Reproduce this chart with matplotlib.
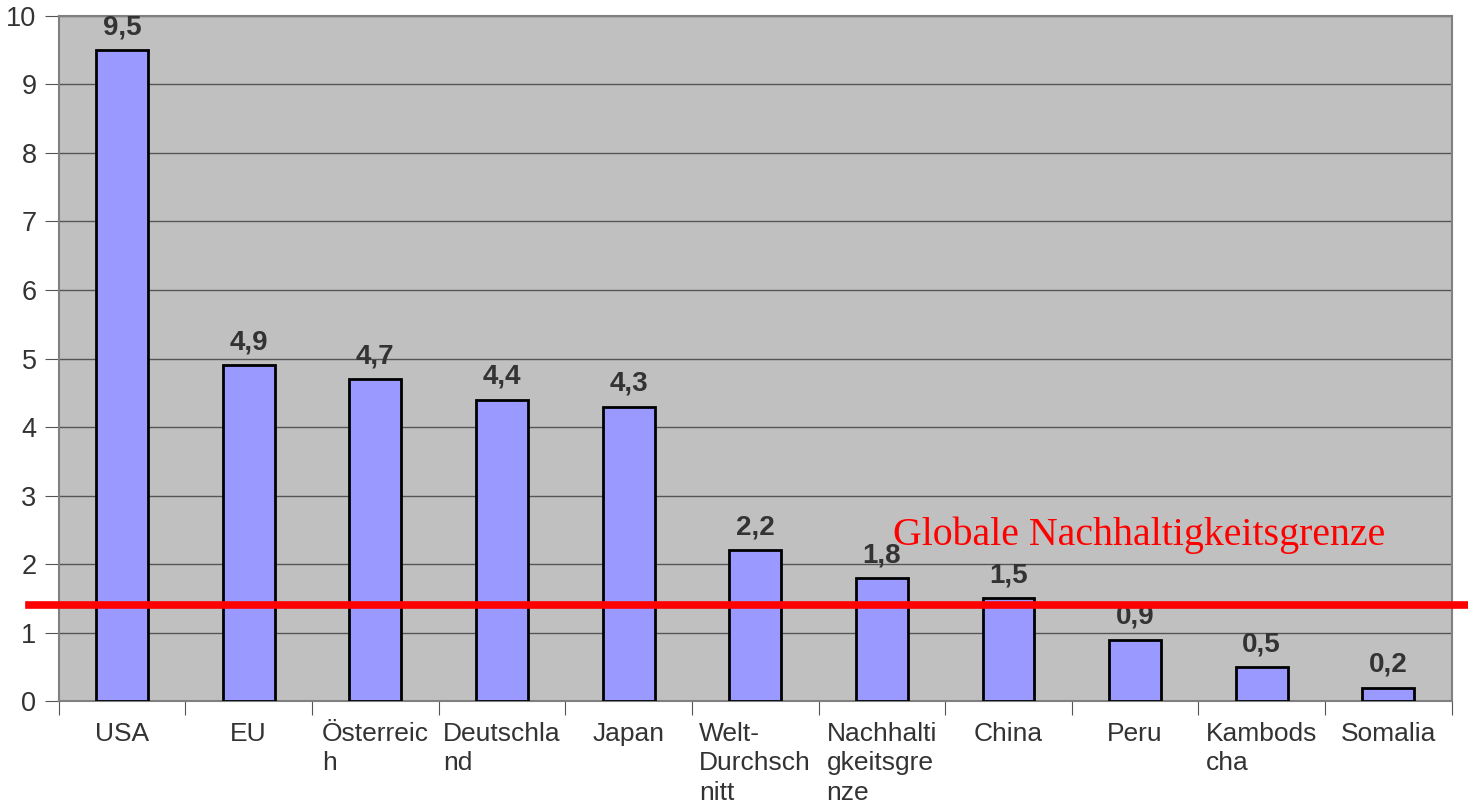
import matplotlib
matplotlib.use('Agg')
import matplotlib.pyplot as plt
import numpy as np

# ecological footprint per country (ha per person)
countries = ['USA', 'EU', 'Österreic\nh', 'Deutschla\nnd', 'Japan', 'Welt-\nDurchsch\nnitt',
             'Nachhalti\ngkeitsgre\nnze', 'China', 'Peru', 'Kambods\ncha', 'Somalia']
values = [9.5, 4.9, 4.7, 4.4, 4.3, 2.2, 1.8, 1.5, 0.9, 0.5, 0.2]
value_labels = ['9,5', '4,9', '4,7', '4,4', '4,3', '2,2', '1,8', '1,5', '0,9', '0,5', '0,2']
limit = 1.4
limit_label = 'Globale Nachhaltigkeitsgrenze'

plt.rcParams['font.family'] = ['Liberation Sans', 'DejaVu Sans']

fig = plt.figure(figsize=(14.68, 8.06), dpi=100)
ax = fig.add_axes([58.7 / 1468, 1 - 701.3 / 806, 1393 / 1468, 685.5 / 806])
ax.set_facecolor('#c0c0c0')

x = np.arange(len(countries))
ax.bar(x, values, width=0.41, color='#9999ff', edgecolor='black', linewidth=2, zorder=3)

for xi, v, lab in zip(x, values, value_labels):
    ax.annotate(lab, (xi, v), xytext=(0, 7), textcoords='offset points',
                ha='center', va='bottom', fontsize=20, fontweight='bold', color='#333333', zorder=4)

ax.set_xlim(-0.5, len(countries) - 0.5)
ax.set_ylim(0, 10)
ax.set_yticks(range(0, 11))
ax.yaxis.grid(True, color='#555555', linewidth=1)
ax.set_axisbelow(True)

# x ticks sit between categories, labels centred under bars
ax.set_xticks(np.arange(-0.5, len(countries), 1.0))
ax.set_xticklabels([])
ax.set_xticks(x, minor=True)
ax.set_xticklabels(countries, minor=True, multialignment='left', linespacing=1.28)
ax.tick_params(axis='x', which='minor', length=0, pad=15, labelsize=19, labelcolor='#333333')
ax.tick_params(axis='x', which='major', length=10, color='#555555', direction='out')
ax.tick_params(axis='y', length=10, color='#555555', labelsize=19.5, labelcolor='#333333', pad=6)

for sp in ax.spines.values():
    sp.set_color('#808080')
    sp.set_linewidth(1.5)

# sustainability limit line runs past the axes on both sides
ax.axhline(limit, xmin=-0.0213, xmax=1.012, color='#ff0000', linewidth=5.5, clip_on=False, zorder=5)
ax.text(6.085, 2.28, limit_label, color='#ff0000', fontsize=28.7,
        family=['Liberation Serif', 'DejaVu Serif'], ha='left', va='baseline', zorder=5)

fig.savefig('out.png', dpi=100)
